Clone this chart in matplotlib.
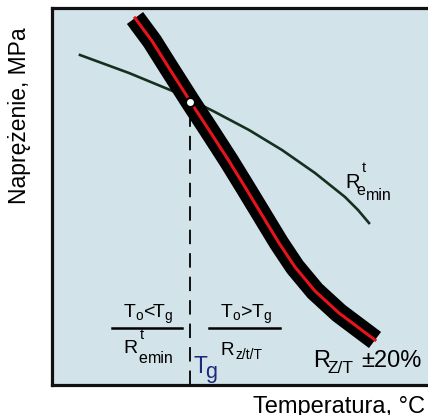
import matplotlib.pyplot as plt

plt.rcParams['font.family'] = ['Liberation Sans', 'DejaVu Sans']
plt.rcParams['mathtext.fontset'] = 'custom'
plt.rcParams['mathtext.rm'] = 'Liberation Sans'

# design-creep strength band R_Z/T (temperature, stress), arbitrary units
band_temp = [83, 100, 117, 138, 157, 177, 193, 210, 227, 243, 263, 287, 307, 323]
band_stress = [367, 344, 317, 284, 255, 224, 198, 170, 142, 118, 94, 72, 57, 45]

# yield strength curve R^t_emin
re_temp = [28, 77, 123, 163, 197, 230, 263, 293, 306, 317]
re_stress = [330, 312, 293, 273, 255, 235, 212, 188, 175, 162]

# crossing point -> Tg
tg_temp = 138
tg_stress = 283

bg = '#d3e3ea'
fig = plt.figure(figsize=(4.28, 4.15), dpi=100)
ax = fig.add_axes([52 / 428, 30 / 415, 400 / 428, 377 / 415])
ax.set_facecolor(bg)
ax.set_xlim(0, 400)
ax.set_ylim(0, 377)
ax.set_xticks([])
ax.set_yticks([])
for s in ax.spines.values():
    s.set_linewidth(2.3)
    s.set_color('#111111')

# band + red centre line
ax.plot(band_temp, band_stress, color='black', lw=14.5, solid_capstyle='butt',
        solid_joinstyle='round', zorder=2)
ax.plot(band_temp, band_stress, color='#e8141c', lw=2.2, solid_joinstyle='round', zorder=3)

# yield curve
ax.plot(re_temp, re_stress, color='#14301f', lw=1.9, solid_joinstyle='round', zorder=1)

# Tg marker and dashed line
ax.plot([tg_temp, tg_temp], [0, tg_stress], color='black', lw=1.3,
        dashes=(8, 5), zorder=1)
ax.plot(tg_temp, tg_stress, 'o', ms=6.5, mfc='white', mec='black', mew=1.5, zorder=4)

# curve labels
ax.text(293, 197, 'R', fontsize=14.5, ha='left', va='baseline')
ax.text(310, 213, 't', fontsize=10.5, ha='left', va='baseline')
ax.text(304, 190, 'e', fontsize=11.5, ha='left', va='baseline')
ax.text(314, 185, 'min', fontsize=11.5, ha='left', va='baseline')

ax.text(261, 18, 'R', fontsize=17, ha='left', va='baseline')
ax.text(275, 12, 'Z/T', fontsize=12.5, ha='left', va='baseline')
ax.text(309, 18, '±20%', fontsize=17, ha='left', va='baseline')

# lower annotations
ax.text(96, 67, 'T$_\\mathregular{o}$<T$_\\mathregular{g}$', fontsize=14,
        ha='center', va='baseline')
ax.text(194, 67, 'T$_\\mathregular{o}$>T$_\\mathregular{g}$', fontsize=14,
        ha='center', va='baseline')
ax.plot([60, 130], [57, 57], color='black', lw=1.8)
ax.plot([157, 228], [57, 57], color='black', lw=1.8)

ax.text(71, 32, 'R', fontsize=14, ha='left', va='baseline')
ax.text(88, 46, 't', fontsize=10.5, ha='left', va='baseline')
ax.text(86, 22, 'e', fontsize=11.5, ha='left', va='baseline')
ax.text(96, 22, 'min', fontsize=11.5, ha='left', va='baseline')

ax.text(168, 30, 'R', fontsize=13.5, ha='left', va='baseline')
ax.text(183, 26, 'z/t/T', fontsize=10, ha='left', va='baseline')

ax.text(141, 12, 'T', fontsize=16.5, ha='left', va='baseline', color='#1c2a7a')
ax.text(153, 7, 'g', fontsize=15.5, ha='left', va='baseline', color='#1c2a7a')

fig.text(20 / 428, 1 - 116 / 415, 'Naprężenie, MPa', rotation=90, fontsize=16.5,
         ha='center', va='center')
fig.text(425 / 428, 2 / 415, 'Temperatura, °C', fontsize=17, ha='right', va='baseline')

fig.savefig('out.png', dpi=100)
